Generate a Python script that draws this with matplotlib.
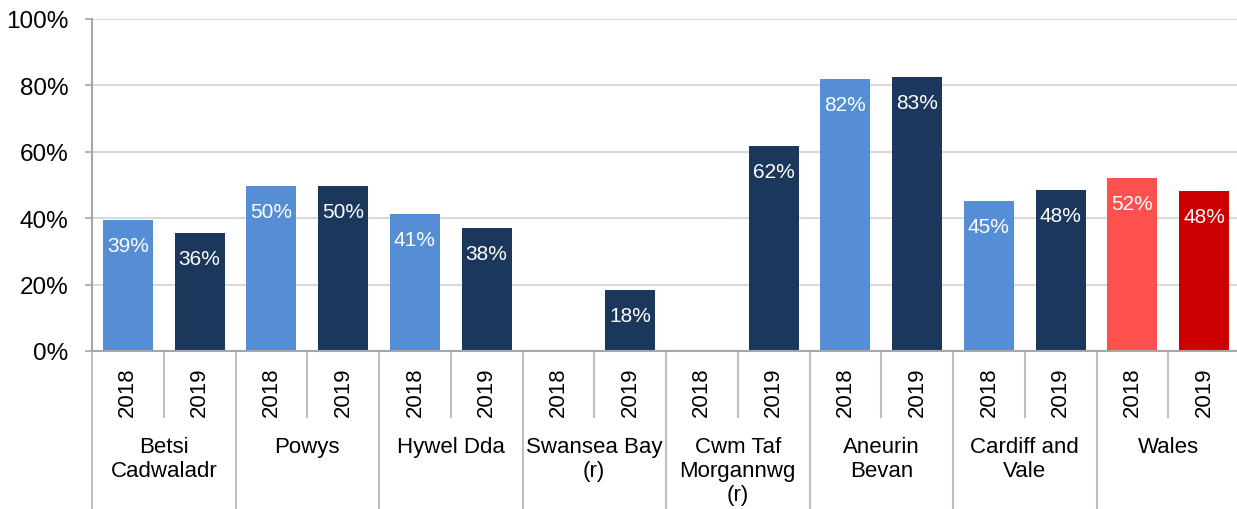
import matplotlib
matplotlib.use("Agg")
import matplotlib.pyplot as plt
import matplotlib.transforms as mtransforms
import numpy as np

plt.rcParams['font.family'] = ['Liberation Sans', 'DejaVu Sans']

groups = ["Betsi\nCadwaladr", "Powys", "Hywel Dda", "Swansea Bay\n(r)",
          "Cwm Taf\nMorgannwg\n(r)", "Aneurin\nBevan", "Cardiff and\nVale", "Wales"]
years = ["2018", "2019"]
values_2018 = [39.5, 49.7, 41.3, None, None, 81.9, 45.2, 52.1]
values_2019 = [35.5, 49.7, 37.0, 18.4, 61.7, 82.5, 48.5, 48.2]
labels_2018 = ["39%", "50%", "41%", "", "", "82%", "45%", "52%"]
labels_2019 = ["36%", "50%", "38%", "18%", "62%", "83%", "48%", "48%"]
yticks = [0, 20, 40, 60, 80, 100]
ytick_labels = ["0%", "20%", "40%", "60%", "80%", "100%"]

c18 = "#558ED5"
c19 = "#1B375C"
w18 = "#FF5050"
w19 = "#CC0000"
grey = "#A6A6A6"

W, H = 1237, 510
fig = plt.figure(figsize=(W / 100, H / 100), dpi=100)
left, right, top, bottom = 92, 1240, 20, 352
ax = fig.add_axes([left / W, 1 - bottom / H, (right - left) / W, (bottom - top) / H])

n = len(groups)
bw = 0.70
for i in range(n):
    for j, (vals, labs) in enumerate([(values_2018, labels_2018), (values_2019, labels_2019)]):
        v = vals[i]
        if v is None:
            continue
        x = 2 * i + j + 0.5
        if i == n - 1:
            col = w18 if j == 0 else w19
        else:
            col = c18 if j == 0 else c19
        ax.bar(x, v, width=bw, color=col, zorder=3)
        ax.annotate(labs[i], (x, v), xytext=(0, -18.5), textcoords="offset points",
                    ha="center", va="center", color="white", fontsize=15, zorder=4)

ax.set_xlim(0, 2 * n)
ax.set_ylim(0, 100)
ax.set_yticks(yticks)
ax.set_yticklabels(ytick_labels, fontsize=17.5)
ax.yaxis.grid(True, color="#D9D9D9", linewidth=1.5, zorder=0)
ax.set_axisbelow(True)
ax.tick_params(axis="y", length=5, color=grey, width=1.2, pad=12)
ax.set_xticks([])
for s in ["top", "right"]:
    ax.spines[s].set_visible(False)
ax.spines["left"].set_color(grey)
ax.spines["left"].set_linewidth(1.5)
ax.spines["bottom"].set_color(grey)
ax.spines["bottom"].set_linewidth(1.5)
ax.spines["bottom"].set_zorder(5)

trans = mtransforms.blended_transform_factory(ax.transData, ax.transAxes)
ah = bottom - top
def yf(py):
    return -(py - bottom) / ah

# separators
for k in range(0, 2 * n):
    if k % 2 == 0:
        ax.plot([k, k], [0, yf(510)], transform=trans, color="#BFBFBF", lw=1.5, clip_on=False)
    else:
        ax.plot([k, k], [0, yf(418)], transform=trans, color="#BFBFBF", lw=1.5, clip_on=False)

for i in range(n):
    for j in range(2):
        ax.text(2 * i + j + 0.5, yf(392), years[j], transform=trans, rotation=90,
                ha="center", va="center", fontsize=16)
    ax.text(2 * i + 1, yf(437), groups[i], transform=trans, ha="center", va="top",
            fontsize=16, linespacing=1.2)

fig.savefig("out.png", dpi=100)
